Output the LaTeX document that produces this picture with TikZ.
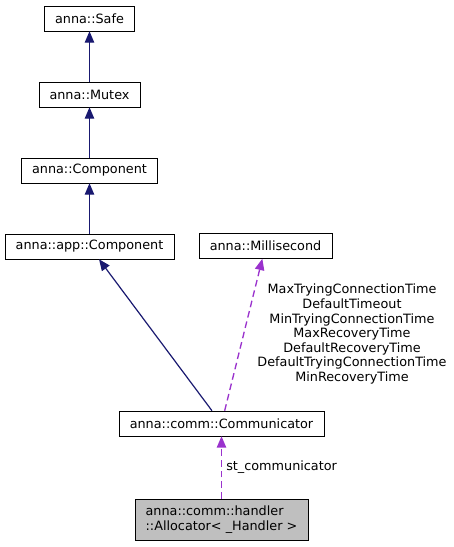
\documentclass[tikz,border=0pt]{standalone}
\usepackage{fontspec}
\setmainfont{DejaVu Sans}
\usetikzlibrary{arrows.meta}
\definecolor{inhblue}{HTML}{191970}
\definecolor{usepurple}{HTML}{9A32CD}
\definecolor{curgray}{HTML}{BFBFBF}
\tikzstyle{cls}=[rectangle, draw=black, fill=white, inner xsep=8pt, inner ysep=0pt, minimum height=18.75pt, font=\fontsize{9.6}{11.5}\selectfont]
\tikzstyle{current}=[cls, fill=curgray, align=left, minimum height=30.75pt]
\tikzstyle{inherit}=[inhblue, line width=0.9pt, -{Triangle[length=8.5pt,width=7pt]}]
\tikzstyle{uses}=[usepurple, line width=1pt, dash pattern=on 5pt off 3pt, -{Triangle[length=8.5pt,width=7pt]}]
\tikzstyle{lbl}=[font=\fontsize{9.6}{10.9}\selectfont, inner sep=0pt]

\begin{document}
\begin{tikzpicture}[x=0.75pt,y=-0.75pt]
\useasboundingbox (0,0) rectangle (454,547);

\node[cls] (safe) at (89.5,18.5) {anna::Safe};
\node[cls] (mutex) at (89.5,94.5) {anna::Mutex};
\node[cls] (comp) at (89.5,170.5) {anna::Component};
\node[cls] (appcomp) at (89.5,246.5) {anna::app::Component};
\node[cls] (msec) at (265.5,246) {anna::Millisecond};
\node[cls] (comm) at (221.5,423.5) {anna::comm::Communicator};
\node[current] (alloc) at (221.5,519.5) {anna::comm::handler\\::Allocator<~\_Handler~>};

\draw[inherit] (mutex) -- (safe);
\draw[inherit] (comp) -- (mutex);
\draw[inherit] (appcomp) -- (comp);
\draw[inherit] (comm) -- (appcomp);
\draw[uses] (comm) -- (msec);
\draw[uses] (alloc) -- (comm);

\node[lbl, align=center] (lbltimes) at (352,334) {MaxTryingConnectionTime\\DefaultTimeout\\MinTryingConnectionTime\\MaxRecoveryTime\\DefaultRecoveryTime\\DefaultTryingConnectionTime\\MinRecoveryTime};
\node[lbl, anchor=west] (lblst) at (226,467) {st\_communicator};
\end{tikzpicture}
\end{document}
